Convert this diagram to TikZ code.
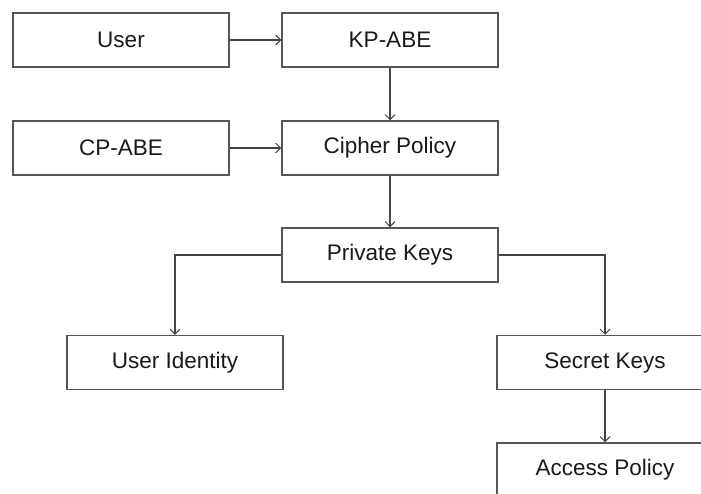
\documentclass[tikz,border=0pt]{standalone}
\usepackage{fontspec}
\setmainfont{Liberation Sans}
\usetikzlibrary{arrows.meta}
\definecolor{boxline}{HTML}{555555}
\definecolor{arrline}{HTML}{444444}
\begin{document}
\begin{tikzpicture}[x=1pt,y=-1pt,
  box/.style={draw=boxline,line width=1.5pt,fill=white,minimum width=216pt,minimum height=54pt,inner sep=0pt,
    font=\fontsize{22.5}{26}\selectfont,text=black!90},
  conn/.style={draw=arrline,line width=1.1pt,-{Straight Barb[length=5pt,width=10pt,line width=1pt]}}]
\useasboundingbox (0,0) rectangle (701,493);
\clip (0,0) rectangle (701,493);
\fill[white] (0,0) rectangle (701,493);
\node[box] (user) at (121,40) {User};
\node[box] (kp) at (390,40) {KP-ABE};
\node[box] (cp) at (121,148) {CP-ABE};
\node[box] (cipher) at (390,148) {Cipher Policy};
\node[box] (priv) at (390,255) {Private Keys};
\node[box] (uid) at (175,362.5) {User Identity};
\node[box] (secret) at (605,362.5) {Secret Keys};
\node[box] (access) at (605,470) {Access Policy};
\draw[conn] (user) -- (kp);
\draw[conn] (cp) -- (cipher);
\draw[conn] (kp) -- (cipher);
\draw[conn] (cipher) -- (priv);
\draw[conn] (priv.west) -| (uid.north);
\draw[conn] (priv.east) -| (secret.north);
\draw[conn] (secret) -- (access);
\end{tikzpicture}
\end{document}
